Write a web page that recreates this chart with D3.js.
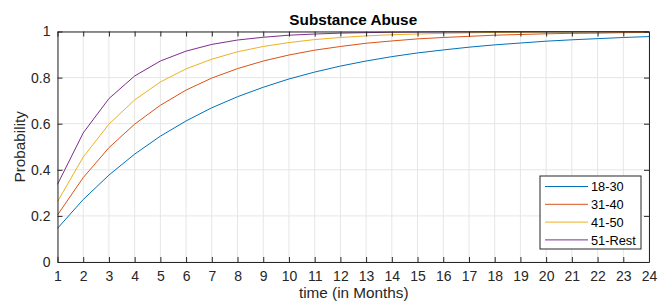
<!DOCTYPE html>
<html><head><meta charset="utf-8">
<script src="https://cdn.jsdelivr.net/npm/d3@7"></script>
<style>body{margin:0;background:#fff}svg{display:block}text{font-family:"Liberation Sans",Arial,sans-serif}</style>
</head><body><svg id="c" width="667" height="303"></svg>
<script>
const months = d3.range(1, 25);
const seriesNames = ["18-30", "31-40", "41-50", "51-Rest"];
const s1830 = [0.146,0.271,0.377,0.468,0.546,0.612,0.669,0.717,0.758,0.794,0.824,0.850,0.872,0.891,0.907,0.920,0.932,0.942,0.950,0.958,0.964,0.969,0.974,0.978];
const s3140 = [0.204,0.366,0.496,0.598,0.680,0.746,0.798,0.839,0.872,0.898,0.919,0.935,0.949,0.959,0.968,0.974,0.979,0.984,0.987,0.990,0.992,0.993,0.995,0.996];
const s4150 = [0.262,0.455,0.598,0.703,0.781,0.838,0.880,0.912,0.935,0.952,0.965,0.974,0.981,0.986,0.989,0.992,0.994,0.996,0.997,0.998,0.998,0.999,0.999,0.999];
const s51 = [0.337,0.560,0.709,0.807,0.872,0.915,0.944,0.963,0.975,0.984,0.989,0.993,0.995,0.997,0.998,0.999,0.999,1.0,1.0,1.0,1.0,1.0,1.0,1.0];
const yTicks = [0, 0.2, 0.4, 0.6, 0.8, 1];
const colors = ["#0072BD", "#D95319", "#EDB120", "#7E2F8E"];
const allSeries = [s1830, s3140, s4150, s51];

const L = 57.5, R = 649, T = 31.5, B = 262;
const svg = d3.select("#c");
const x = d3.scaleLinear().domain([1, 24]).range([L, R]);
const y = d3.scaleLinear().domain([0, 1]).range([B, T]);

// grid
const g = svg.append("g");
g.selectAll(".vx").data(months).join("line")
  .attr("x1", d => x(d)).attr("x2", d => x(d)).attr("y1", T).attr("y2", B)
  .attr("stroke", "#e6e6e6").attr("stroke-width", 1);
g.selectAll(".hy").data(yTicks).join("line")
  .attr("x1", L).attr("x2", R).attr("y1", d => y(d)).attr("y2", d => y(d))
  .attr("stroke", "#e6e6e6").attr("stroke-width", 1);

// lines
const line = d3.line().x((d, i) => x(months[i])).y(d => y(d));
allSeries.forEach((s, k) => {
  svg.append("path").datum(s).attr("d", line).attr("fill", "none")
    .attr("stroke", colors[k]).attr("stroke-width", 1);
});

// axes
const axC = "#262626";
const xb = svg.append("g").attr("transform", `translate(0,${B})`)
  .call(d3.axisBottom(x).tickValues(months).tickSizeInner(-5).tickSizeOuter(0).tickPadding(9));
const xt = svg.append("g").attr("transform", `translate(0,${T})`)
  .call(d3.axisTop(x).tickValues(months).tickSizeInner(-5).tickSizeOuter(0).tickFormat(""));
const yl = svg.append("g").attr("transform", `translate(${L},0)`)
  .call(d3.axisLeft(y).tickValues(yTicks).tickSizeInner(-5).tickSizeOuter(0).tickPadding(7).tickFormat(d3.format("~g")));
const yr = svg.append("g").attr("transform", `translate(${R},0)`)
  .call(d3.axisRight(y).tickValues(yTicks).tickSizeInner(-5).tickSizeOuter(0).tickFormat(""));
[xb, xt, yl, yr].forEach(a => {
  a.selectAll("path").attr("stroke", axC).attr("stroke-width", 1);
  a.selectAll("line").attr("stroke", axC);
  a.selectAll("text").attr("fill", axC).style("font-size", "14px").style("font-family", '"Liberation Sans",Arial,sans-serif');
});

// title & labels
svg.append("text").attr("x", (L + R) / 2).attr("y", 25).attr("text-anchor", "middle")
  .style("font-size", "15.3px").style("font-weight", "bold").attr("fill", "#000").text("Substance Abuse");
svg.append("text").attr("x", (L + R) / 2 + 0.5).attr("y", 298).attr("text-anchor", "middle")
  .style("font-size", "15.3px").attr("fill", axC).text("time (in Months)");
svg.append("text").attr("transform", `translate(25,${(T + B) / 2}) rotate(-90)`).attr("text-anchor", "middle")
  .style("font-size", "15.3px").attr("fill", axC).text("Probability");

// legend
const lx = 540, ly = 176, lw = 101, lh = 73;
const lg = svg.append("g");
lg.append("rect").attr("x", lx).attr("y", ly).attr("width", lw).attr("height", lh)
  .attr("fill", "#fff").attr("stroke", axC).attr("stroke-width", 1);
seriesNames.forEach((n, k) => {
  const yy = ly + 10.5 + k * 17.8;
  lg.append("line").attr("x1", lx + 5).attr("x2", lx + 48).attr("y1", yy).attr("y2", yy)
    .attr("stroke", colors[k]).attr("stroke-width", 1);
  lg.append("text").attr("x", lx + 51).attr("y", yy + 4.6).style("font-size", "12.8px")
    .attr("fill", "#000").text(n);
});
</script></body></html>
